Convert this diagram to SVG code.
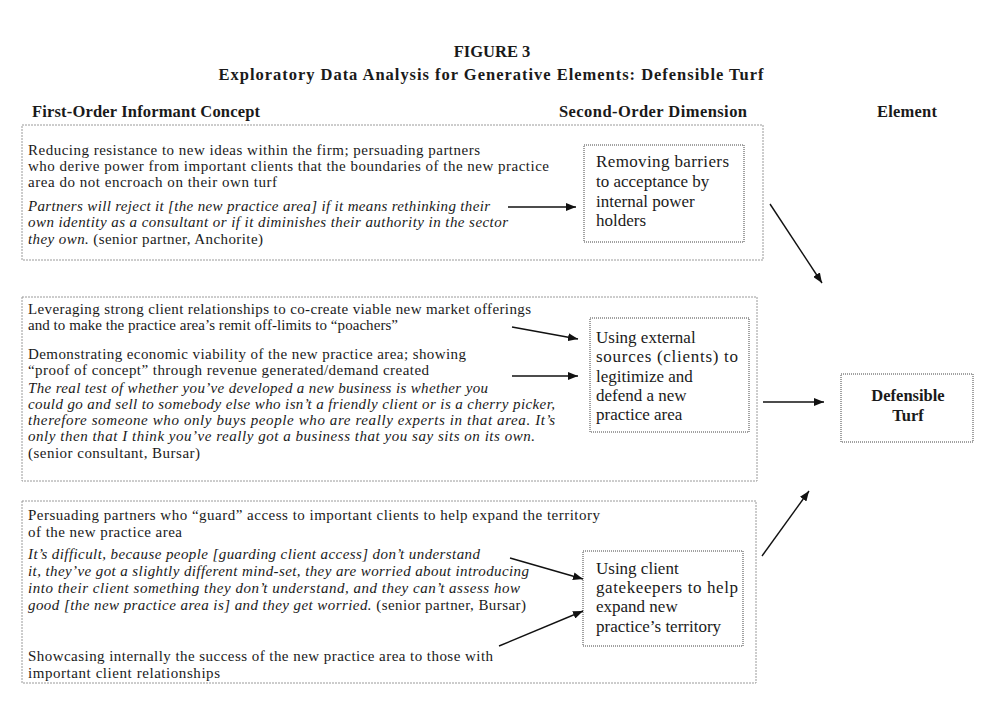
<svg xmlns="http://www.w3.org/2000/svg" width="984" height="702" viewBox="0 0 984 702">
<defs>
<style>
text{font-family:"Liberation Serif","Times New Roman",serif;fill:#1a1a1a}
.h{font-weight:bold;font-size:16.5px}
.t{font-size:15px}
.i{font-style:italic}
.ib{font-size:17px}
.outer{fill:none;stroke:#9a9a9a;stroke-width:1;stroke-dasharray:2 1}
.inner{fill:none;stroke:#444;stroke-width:1;stroke-dasharray:1 1}
.ar{stroke:#111;stroke-width:1.4;fill:none;marker-end:url(#ah)}
</style>
<marker id="ah" viewBox="0 0 10 8" refX="10" refY="4" markerWidth="10" markerHeight="8" markerUnits="userSpaceOnUse" orient="auto">
<path d="M0,0 L10,4 L0,8 Z" fill="#111"/>
</marker>
</defs>
<rect width="984" height="702" fill="#fff"/>
<g id="title">
<text class="h" x="492" y="57" text-anchor="middle" font-size="19.5">FIGURE 3</text>
<text class="h" x="491" y="80" text-anchor="middle" font-size="19.5" textLength="545">Exploratory Data Analysis for Generative Elements: Defensible Turf</text>
</g>
<g id="headers">
<text class="h" x="32" y="117" textLength="228">First-Order Informant Concept</text>
<text class="h" x="559" y="117" textLength="188">Second-Order Dimension</text>
<text class="h" x="877" y="117" textLength="60">Element</text>
</g>
<g id="group1">
<rect class="outer" x="22" y="125" width="741" height="135"/>
<text class="t" x="28" y="155" textLength="452">Reducing resistance to new ideas within the firm; persuading partners</text>
<text class="t" x="28" y="171" textLength="521">who derive power from important clients that the boundaries of the new practice</text>
<text class="t" x="28" y="187" textLength="249">area do not encroach on their own turf</text>
<text class="t i" x="28" y="211" textLength="462">Partners will reject it [the new practice area] if it means rethinking their</text>
<text class="t i" x="28" y="227" textLength="480">own identity as a consultant or if it diminishes their authority in the sector</text>
<text class="t" x="28" y="244" textLength="235"><tspan class="i">they own.</tspan> (senior partner, Anchorite)</text>
</g>
<g id="dim1">
<rect class="inner" x="584" y="145" width="160" height="97"/>
<text class="ib" x="596" y="167" textLength="133">Removing barriers</text>
<text class="ib" x="596" y="187">to acceptance by</text>
<text class="ib" x="596" y="207">internal power</text>
<text class="ib" x="596" y="226">holders</text>
</g>
<g id="group2">
<rect class="outer" x="22" y="297" width="735" height="184"/>
<text class="t" x="28" y="314" textLength="503">Leveraging strong client relationships to co-create viable new market offerings</text>
<text class="t" x="28" y="330" textLength="370">and to make the practice area’s remit off-limits to “poachers”</text>
<text class="t" x="28" y="359" textLength="438">Demonstrating economic viability of the new practice area; showing</text>
<text class="t" x="28" y="375" textLength="401">“proof of concept” through revenue generated/demand created</text>
<text class="t i" x="28" y="393" textLength="460">The real test of whether you’ve developed a new business is whether you</text>
<text class="t i" x="28" y="409" textLength="527">could go and sell to somebody else who isn’t a friendly client or is a cherry picker,</text>
<text class="t i" x="28" y="425" textLength="527">therefore someone who only buys people who are really experts in that area. It’s</text>
<text class="t i" x="28" y="441" textLength="507">only then that I think you’ve really got a business that you say sits on its own.</text>
<text class="t" x="28" y="458" textLength="172">(senior consultant, Bursar)</text>
</g>
<g id="dim2">
<rect class="inner" x="590" y="318" width="159" height="114"/>
<text class="ib" x="596" y="343">Using external</text>
<text class="ib" x="596" y="362" textLength="142">sources (clients) to</text>
<text class="ib" x="596" y="382">legitimize and</text>
<text class="ib" x="596" y="401">defend a new</text>
<text class="ib" x="596" y="420">practice area</text>
</g>
<g id="group3">
<rect class="outer" x="22" y="501" width="734" height="182"/>
<text class="t" x="28" y="520" textLength="572">Persuading partners who “guard” access to important clients to help expand the territory</text>
<text class="t" x="28" y="537" textLength="154">of the new practice area</text>
<text class="t i" x="28" y="559" textLength="452">It’s difficult, because people [guarding client access] don’t understand</text>
<text class="t i" x="28" y="576" textLength="501">it, they’ve got a slightly different mind-set, they are worried about introducing</text>
<text class="t i" x="28" y="593" textLength="492">into their client something they don’t understand, and they can’t assess how</text>
<text class="t" x="28" y="610" textLength="498"><tspan class="i">good [the new practice area is] and they get worried.</tspan> (senior partner, Bursar)</text>
<text class="t" x="28" y="661" textLength="465">Showcasing internally the success of the new practice area to those with</text>
<text class="t" x="28" y="678" textLength="192">important client relationships</text>
</g>
<g id="dim3">
<rect class="inner" x="583" y="551" width="160" height="95"/>
<text class="ib" x="596" y="574">Using client</text>
<text class="ib" x="596" y="593" textLength="142">gatekeepers to help</text>
<text class="ib" x="596" y="612">expand new</text>
<text class="ib" x="596" y="632">practice’s territory</text>
</g>
<g id="element">
<rect class="inner" x="841" y="374" width="132" height="68"/>
<text class="h" x="908" y="401" text-anchor="middle" font-size="17">Defensible</text>
<text class="h" x="908" y="421" text-anchor="middle" font-size="17">Turf</text>
</g>
<g id="connectors">
<line class="ar" x1="508" y1="207" x2="576" y2="207"/>
<line class="ar" x1="512" y1="327" x2="578" y2="339"/>
<line class="ar" x1="512" y1="376" x2="578" y2="376"/>
<line class="ar" x1="763" y1="402" x2="824" y2="402"/>
<line class="ar" x1="770" y1="204" x2="822" y2="283"/>
<line class="ar" x1="762" y1="556" x2="809" y2="491"/>
<line class="ar" x1="510" y1="558" x2="583" y2="579"/>
<line class="ar" x1="499" y1="646" x2="583" y2="611"/>
</g>
</svg>
